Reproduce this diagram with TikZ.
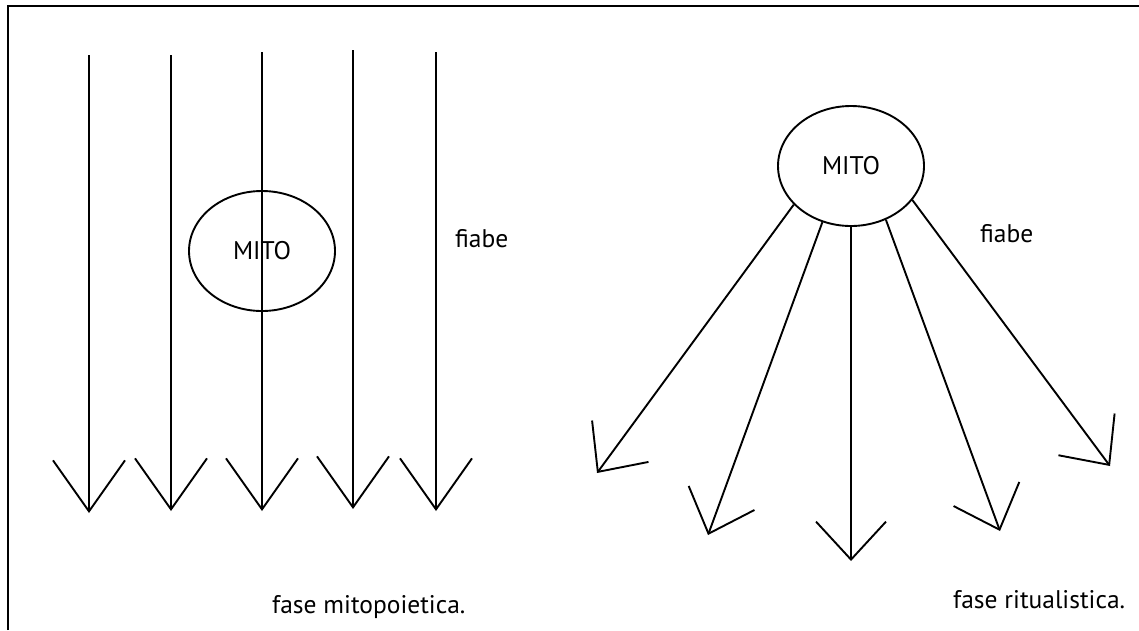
\documentclass[tikz,border=0pt]{standalone}
\usepackage{fontspec}
\setmainfont{PT Sans}
\usepackage{tikz}
\usetikzlibrary{arrows.meta}
\usetikzlibrary{shapes.geometric}
\tikzset{>=latex}
\tikzstyle{mito} = [ellipse, draw=black, line width=1.9pt, minimum width=146pt, minimum height=120pt, inner sep=0pt, font=\fontsize{25.5}{30}\selectfont]
\tikzstyle{lbl} = [draw=none, inner sep=0pt, anchor=base west, font=\fontsize{25.5}{30}\selectfont]
\tikzstyle{down} = [-{Straight Barb[length=51pt, width=72pt]}, line width=1.9pt]
\tikzstyle{spread} = [-{Straight Barb[length=38pt, width=70pt]}, line width=1.9pt]

\begin{document}
\begin{tikzpicture}[x=1pt, y=-1pt]
\useasboundingbox (0,0) rectangle (1139,630);
\draw [line width=2.8pt] (8,630) -- (8,6) -- (1139,6);
% fase mitopoietica
\node [mito] (mitoL) at (262,251) {MITO};
\foreach \i/\x/\y/\b in {1/89/55/513, 2/171/55/511, 3/262/52/511, 4/353/50/509, 5/436/52/511} {
  \coordinate (topL\i) at (\x,\y);
  \coordinate (tipL\i) at (\x,\b);
  \draw [down] (topL\i) to (tipL\i);
}
\node [lbl] (fiabeL) at (455,247) {fiabe};
\node [lbl] (faseL) at (272,613) {fase mitopoietica.};
% fase ritualistica
\node [mito] (mitoR) at (851,166) {MITO};
\foreach \i/\a/\x/\y in {1/-146/597/473, 2/-117/708/535, 3/-90/851/561, 4/-57/1000/531, 5/-29/1110/466} {
  \coordinate (tipR\i) at (\x,\y);
  \draw [spread] (mitoR.\a) to (tipR\i);
}
\node [lbl] (fiabeR) at (980,242) {fiabe};
\node [lbl] (faseR) at (953,608) {fase ritualistica.};
\end{tikzpicture}
\end{document}
